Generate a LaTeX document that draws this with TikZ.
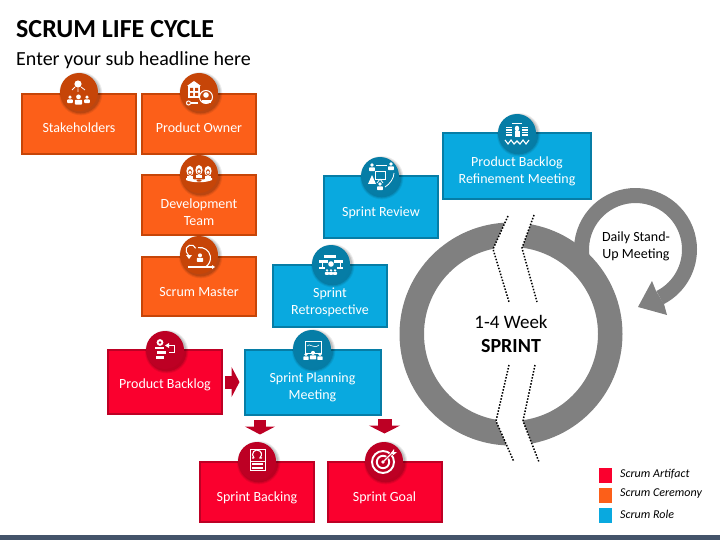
\documentclass[tikz,border=0pt]{standalone}
\usepackage{fontspec}
\setmainfont{Carlito}
\usetikzlibrary{arrows.meta,calc,shadows}
\definecolor{orF}{HTML}{FC5F19}\definecolor{orD}{HTML}{C64508}
\definecolor{reF}{HTML}{FA002E}\definecolor{reD}{HTML}{BD0024}
\definecolor{blF}{HTML}{09A9DF}\definecolor{blD}{HTML}{067DA6}
\definecolor{ringgray}{HTML}{808080}\definecolor{barc}{HTML}{44546A}
\tikzset{
  x=1pt,y=-1pt,
  card/.style={draw,line width=2pt,inner sep=0pt,minimum width=#1},
  orcard/.style={card=114pt,fill=orF,draw=orD},
  recard/.style={card=114pt,fill=reF,draw=reD},
  blcard/.style={card=114pt,fill=blF,draw=blD},
  lbl/.style={text=white,font=\fontsize{14}{17}\selectfont,align=center,inner sep=0pt},
  badge/.style={circle,minimum size=38pt,inner sep=0pt,fill=#1,
    general shadow={shadow xshift=1.5pt,shadow yshift=-1.5pt,shadow scale=1.14,fill=black,fill opacity=.07},
    general shadow={shadow xshift=1.5pt,shadow yshift=-1.5pt,shadow scale=1.09,fill=black,fill opacity=.09},
    general shadow={shadow xshift=1.5pt,shadow yshift=-1.5pt,shadow scale=1.04,fill=black,fill opacity=.12}},
  blockarrow/.style={draw=reD,line width=#1},
  dotline/.style={line width=1.5pt,dash pattern=on 1.5pt off 1.6pt,black},
  legbox/.style={minimum width=13pt,minimum height=15pt,inner sep=0pt},
  legtxt/.style={font=\fontsize{12}{14}\selectfont\itshape,anchor=west,inner sep=0pt},
  wl/.style={draw=white,fill=none,line width=.8pt},
  person/.pic={\fill[white] (0,-2.1) circle[radius=1.35];
    \fill[white,rounded corners=.7] (-2.1,2.3) rectangle (2.1,-.4);},
}
\begin{document}
\begin{tikzpicture}
\useasboundingbox (0,0) rectangle (720,540);
\fill[barc] (0,535) rectangle (720,540);
\node[anchor=west,inner sep=0pt,font=\fontsize{26}{29}\selectfont\bfseries] (title) at (16,29) {SCRUM LIFE CYCLE};
\node[anchor=west,inner sep=0pt,font=\fontsize{20}{23}\selectfont] (sub) at (16,60) {Enter your sub headline here};

% ring and loop arrow
\draw[ringgray,line width=15pt] (635.5,249.5) ++(190:54pt) arc[start angle=190,end angle=-63,radius=54pt];
\fill[ringgray] (638,307) -- (652,281) -- (656,291) -- (664,304) -- (667,315) -- cycle;
\fill[ringgray,even odd rule] (511,334) circle[radius=111.5pt] (511,334) circle[radius=87pt];
\fill[white] (508,216) -- (493,249) -- (509,302) -- (537,302) -- (522,248) -- (534,215) -- cycle;
\fill[white] (509,365) -- (496,421) -- (514,462) -- (539,462) -- (523,421) -- (535,365) -- cycle;
\draw[dotline] (508,216) -- (493,249) -- (509,302);
\draw[dotline] (534,215) -- (522,248) -- (537,302);
\draw[dotline] (509,365) -- (496,421) -- (514,462);
\draw[dotline] (535,365) -- (523,421) -- (539,462);
\node[align=center,inner sep=0pt,font=\fontsize{19}{24}\selectfont] (sprint) at (511,333.5) {1-4 Week\\{\fontsize{20}{24}\selectfont\textbf{SPRINT}}};
\node[align=center,inner sep=0pt,font=\fontsize{14}{16.5}\selectfont] (daily) at (636,246.5) {Daily Stand-\\Up Meeting};

% cards
\node[orcard,minimum height=60pt,label={[lbl,yshift=-4pt]center:Stakeholders}] (stake) at (79,124) {};
\node[orcard,minimum height=60pt,label={[lbl,yshift=-4pt]center:Product Owner}] (owner) at (199,124) {};
\node[orcard,minimum height=60pt,label={[lbl,yshift=-7pt]center:Development\\Team}] (devt) at (199,205) {};
\node[orcard,minimum height=59pt,label={[lbl,yshift=-6pt]center:Scrum Master}] (master) at (199,286) {};
\node[blcard,minimum height=61pt,label={[lbl,yshift=-5.5pt]center:Sprint Review}] (review) at (381,207) {};
\node[blcard,card=148pt,minimum height=66pt,label={[lbl,yshift=-5pt]center:Product Backlog\\Refinement Meeting}] (refine) at (517,166) {};
\node[blcard,minimum height=62pt,label={[lbl,yshift=-7pt]center:Sprint\\Retrospective}] (retro) at (330,295.5) {};
\node[blcard,card=136pt,minimum height=65pt,label={[lbl,yshift=-5pt]center:Sprint Planning\\Meeting}] (plan) at (312.5,382.5) {};
\node[recard,minimum height=64pt,label={[lbl,yshift=-3.5pt]center:Product Backlog}] (pback) at (165,381.5) {};
\node[recard,minimum height=60pt,label={[lbl,yshift=-6.5pt]center:Sprint Backing}] (back) at (257,491.5) {};
\node[recard,minimum height=60pt,label={[lbl,yshift=-6.5pt]center:Sprint Goal}] (goal) at (384.5,491.5) {};

% block arrows
\draw[blockarrow=13pt,-{Triangle[length=8pt,width=30pt]}] ($(pback.east)+(2,.5)$) -- ($(plan.west |- pback.east)+(-4,.5)$);
\draw[blockarrow=12pt,-{Triangle[length=8pt,width=30pt]}] ($(plan.south -| back.north)+(3,4)$) -- ($(back.north)+(3,-26)$);
\draw[blockarrow=14pt,-{Triangle[length=8pt,width=31pt]}] ($(plan.south -| goal.north)+(0,3)$) -- ($(goal.north)+(0,-27)$);

% badges
\node[badge=orD] (b1) at (79,92) {};
\node[badge=orD] (b2) at (199,92) {};
\node[badge=orD] (b3) at (199,174) {};
\node[badge=orD] (b4) at (199,255) {};
\node[badge=blD] (b5) at (380,176) {};
\node[badge=blD] (b6) at (517,133) {};
\node[badge=blD] (b7) at (331,264) {};
\node[badge=blD] (b8) at (312,349) {};
\node[badge=reD] (b9) at (165,350) {};
\node[badge=reD] (b10) at (257,461) {};
\node[badge=reD] (b11) at (384,461) {};

% icon: stakeholders
\begin{scope}[shift={(79,92)}]
 \fill[white] (-1,-8) circle[radius=3.6];
 \draw[wl] (-4,-5) -- (-7,-2) (2,-5) -- (6,-2) (-1,-3.5) -- (-1,0);
 \pic[scale=1.75] at (-.5,8.5) {person};
 \pic[scale=1.35] at (-9,8) {person};
 \pic[scale=1.35] at (8,8) {person};
\end{scope}
% icon: product owner
\begin{scope}[shift={(199,92)}]
 \fill[white] (-12,-6) -- (-5,-11) -- (2,-6) -- cycle;
 \fill[white] (-11,-6) rectangle (1,6);
 \fill[orD] (-9,-4) rectangle (-6,-1) (-4,-4) rectangle (-1,-1) (-9,1) rectangle (-6,4) (-4,1) rectangle (-1,4);
 \draw[wl,line width=1.1pt] (-8,11) -- (-1,11);
 \draw[wl,line width=1pt] (-10.5,11) circle[radius=2];
 \draw[wl,line width=1pt] (7,5) circle[radius=6.5];
 \fill[white] (7,3) circle[radius=2.8];
 \fill[white] (2.5,11) rectangle (12,8);
\end{scope}
% icon: development team
\begin{scope}[shift={(199,174)}]
 \foreach \px/\py in {-9/-3,0/-4,9/-3}{
  \fill[white] (\px,\py) ellipse[x radius=3.6,y radius=5];
  \fill[orD] (\px,\py+1.2) ellipse[x radius=2,y radius=3];
  \fill[white] (\px,\py+1.4) circle[radius=1.7];
  \fill[white] (\px-3,\py+8) rectangle (\px+3,\py+5);
 }
 \fill[white] (-13,4) .. controls (-6,6) and (6,6) .. (13,4) -- (13,6) .. controls (7,9) and (-7,9) .. (-13,6) -- cycle;
 \fill[orD] (0,6.5) ellipse[x radius=2.5,y radius=1.2];
\end{scope}
% icon: scrum master
\begin{scope}[shift={(199,255)}]
 \draw[wl,line width=1.1pt] (1,3) ++(100:10.5pt) arc[start angle=100,end angle=-60,radius=10.5pt];
 \draw[wl,line width=1.1pt] (-8,-5) ++(20:5pt) arc[start angle=20,end angle=200,radius=5pt] -- (-10,1);
 \fill[white] (-13,0) -- (-7,0) -- (-10,4) -- cycle;
 \draw[wl,line width=1.1pt] (-11,12) -- (13,12);
 \fill[white] (13,10) -- (16,12) -- (13,14) -- cycle;
 \pic[scale=1.5] at (1,3.5) {person};
\end{scope}
% icon: sprint review
\begin{scope}[shift={(380,176)}]
 \pic[scale=1.4] at (-8,-8) {person};
 \pic[scale=1.4] at (11,-9) {person};
 \pic[scale=1.4] at (0,11) {person};
 \draw[wl] (-5,-5) rectangle (5,3);
 \draw[wl] (0,3) -- (-3,7) (0,3) -- (3,7);
 \draw[wl] (-4,-11) -- (7,-11);
 \draw[wl] (14,-3) .. controls (14,2) and (10,8) .. (5,11);
 \fill[white] (-8,-1) -- (-4,8) -- (-12,8) -- cycle;
\end{scope}
% icon: refinement
\begin{scope}[shift={(517,133)}]
 \foreach \ry in {-6,-3.5,-1,1.5}{
  \fill[white] (-11,\ry) rectangle (-5,\ry+1.5);
  \fill[white] (5,\ry) rectangle (11,\ry+1.5);}
 \fill[white] (0,-4.5) ellipse[x radius=2.2,y radius=2.8];
 \fill[white] (-2.5,4) rectangle (2.5,-1.5);
 \draw[wl,line width=1.1pt] (-12,7) -- (-9,11) -- (-6,7) -- (-3,11) -- (0,8) -- (3,11) -- (6,7) -- (9,11) -- (12,7);
 \draw[wl] (-5,-10) -- (5,-10);
\end{scope}
% icon: retrospective
\begin{scope}[shift={(331,264)}]
 \fill[white] (-7,-9) rectangle (5,-6);
 \fill[white] (-12,-4) rectangle (-3,-1);
 \fill[white] (3,-4) rectangle (12,-1);
 \draw[wl] (-9,-1) -- (-9,3) (9,-1) -- (9,3);
 \fill[white] (-12,3) rectangle (-6,5);
 \fill[white] (6,3) rectangle (12,5);
 \fill[white] (0,0) circle[radius=2.8];
 \pic[scale=1] at (-4,8.5) {person};
 \pic[scale=1] at (0,8.5) {person};
 \pic[scale=1] at (4,8.5) {person};
\end{scope}
% icon: planning
\begin{scope}[shift={(312,349)}]
 \draw[wl] (-7,-8) rectangle (9,4);
 \draw[wl,line width=.6pt] (-5,-3) .. controls (-2,-7) and (1,1) .. (7,-4);
 \pic[scale=1.3] at (-6,8) {person};
 \pic[scale=1.5] at (1,7) {person};
 \pic[scale=1.3] at (8,8) {person};
\end{scope}
% icon: product backlog
\begin{scope}[shift={(165,350)}]
 \fill[white] (-5,-7.5) circle[radius=3.4];
 \fill[reD] (-5,-7.5) circle[radius=1.4];
 \fill[white] (-10,-3) rectangle (-1,-1);
 \draw[wl] (2,-4.5) -- (9,-4.5) -- (9,2) -- (4,2);
 \fill[white] (4,-7) -- (0,-4.5) -- (4,-2) -- cycle;
 \fill[white] (-8,1) rectangle (1,4);
 \fill[white] (-9,6) rectangle (-1,9);
\end{scope}
% icon: sprint backing
\begin{scope}[shift={(257,461)}]
 \draw[wl] (-7,-12) rectangle (8,9);
 \draw[wl,line width=1.1pt] (-5,-3) -- (-3,-3) (0,-6.5) ++(230:4.5pt) arc[start angle=230,end angle=-50,radius=4.5pt] -- (5,-3);
 \draw[wl] (-7,0) -- (8,0);
 \fill[white] (-5,2) rectangle (6,4);
 \fill[white] (-5,5.5) rectangle (6,7.5);
\end{scope}
% icon: sprint goal
\begin{scope}[shift={(384,461)}]
 \draw[white,line width=1.9pt] (-1,1) circle[radius=11pt];
 \draw[white,line width=1.9pt] (-1,1) circle[radius=6.2pt];
 \fill[white] (-1,1) circle[radius=1.8];
 \draw[reD,line width=2.6pt] (0,0) -- (11,-11);
 \draw[wl,line width=1.2pt] (-1,1) -- (9,-9);
 \fill[white] (7,-8) -- (10,-12) -- (10,-9) -- (13,-9) -- (9.5,-6) -- cycle;
\end{scope}

% legend
\node[legbox,fill=reF] (lega) at (605.5,475.5) {};
\node[legbox,fill=orF] (legc) at (605.5,495.5) {};
\node[legbox,fill=blF] (legr) at (605.5,515.5) {};
\node[legtxt] (tlega) at (620,474) {Scrum Artifact};
\node[legtxt] (tlegc) at (620,494) {Scrum Ceremony};
\node[legtxt] (tlegr) at (620,514) {Scrum Role};
\end{tikzpicture}
\end{document}
